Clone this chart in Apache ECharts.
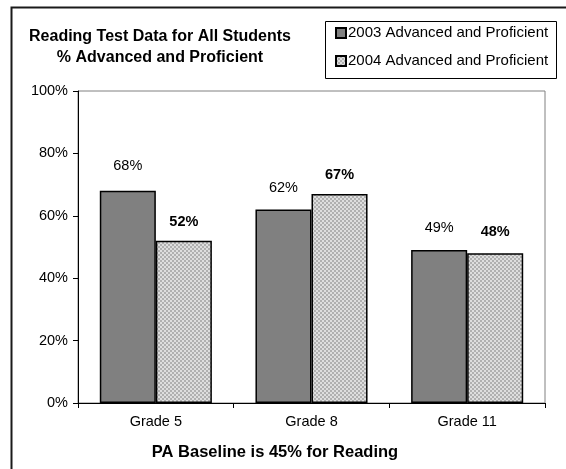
<!DOCTYPE html>
<html>
<head>
<meta charset="utf-8">
<script src="https://cdn.jsdelivr.net/npm/echarts@6/dist/echarts.min.js"></script>
<style>
  html, body { margin: 0; padding: 0; background: #fff; }
  #chart { width: 566px; height: 469px; }
</style>
</head>
<body>
<div id="chart"></div>
<script>
// == Data ====================================================================
const grades = ['Grade 5', 'Grade 8', 'Grade 11']
const values2003 = [68, 62, 49]
const values2004 = [52, 67, 48]
const seriesNames = ['2003 Advanced and Proficient', '2004 Advanced and Proficient']

// label gap above each bar (Excel placed them unevenly)
const gap2003 = [17, 14, 15]
const gap2004 = [11, 11, 14]

const FONT = '"Liberation Sans", Arial, sans-serif'

// dotted light-grey fill like the old Excel pattern
function dotPattern () {
  const c = document.createElement('canvas')
  c.width = 4
  c.height = 4
  const ctx = c.getContext('2d')
  ctx.fillStyle = '#dedede'
  ctx.fillRect(0, 0, 4, 4)
  ctx.fillStyle = '#b0b0b0'
  ctx.fillRect(0, 0, 2, 2)
  ctx.fillRect(2, 2, 2, 2)
  return c
}

function withLabels (vals, gaps) {
  return vals.map((v, i) => ({ value: v, label: { distance: gaps[i] } }))
}

const myChart = echarts.init(document.getElementById('chart'))

myChart.setOption({
  animation: false,
  textStyle: { fontFamily: FONT },
  title: {
    text: 'Reading Test Data for All Students\n% Advanced and Proficient',
    left: 155,
    top: 21,
    textAlign: 'center',
    textStyle: { fontFamily: FONT, fontSize: 16, fontWeight: 'bold', color: '#000', lineHeight: 21 }
  },
  legend: {
    orient: 'vertical',
    left: 323,
    top: 19,
    padding: [6, 8, 7, 12],
    itemGap: 12,
    itemWidth: 10,
    itemHeight: 10,
    icon: 'rect',
    textStyle: { fontFamily: FONT, fontSize: 15, color: '#000', lineHeight: 16, padding: [0, 0, 0, -3] },
    data: seriesNames
  },
  grid: {
    left: 78,
    right: 21,
    top: 91,
    bottom: 66,
    show: true,
    borderColor: '#808080',
    borderWidth: 1
  },
  xAxis: {
    type: 'category',
    data: grades,
    axisLine: { lineStyle: { color: '#000', width: 1 } },
    axisTick: { show: true, length: 5, lineStyle: { color: '#000' } },
    axisLabel: { fontFamily: FONT, fontSize: 14.5, color: '#000', margin: 11 }
  },
  yAxis: {
    type: 'value',
    min: 0,
    max: 100,
    interval: 20,
    splitLine: { show: false },
    axisLine: { show: true, lineStyle: { color: '#000', width: 1 } },
    axisTick: { show: true, length: 5, lineStyle: { color: '#000' } },
    axisLabel: { fontFamily: FONT, fontSize: 14.5, color: '#000', margin: 10, formatter: '{value}%' }
  },
  series: [
    {
      name: seriesNames[0],
      type: 'bar',
      data: withLabels(values2003, gap2003),
      barGap: '0%',
      barCategoryGap: '28%',
      itemStyle: { color: '#808080', borderColor: '#000', borderWidth: 1.5 },
      label: {
        show: true,
        position: 'top',
        formatter: '{c}%',
        fontFamily: FONT,
        fontSize: 14.5,
        color: '#000'
      }
    },
    {
      name: seriesNames[1],
      type: 'bar',
      data: withLabels(values2004, gap2004),
      barGap: '0%',
      barCategoryGap: '28%',
      itemStyle: {
        color: { image: dotPattern(), repeat: 'repeat' },
        borderColor: '#000',
        borderWidth: 1.5
      },
      label: {
        show: true,
        position: 'top',
        formatter: '{c}%',
        fontFamily: FONT,
        fontSize: 14.5,
        fontWeight: 'bold',
        color: '#000'
      }
    }
  ],
  graphic: [
    {
      // outer chart frame, runs off the right and bottom edges
      type: 'rect',
      left: 9,
      top: 5,
      shape: { width: 700, height: 700 },
      style: { fill: 'none', stroke: '#1a1a1a', lineWidth: 2 },
      silent: true
    },
    {
      type: 'rect',
      left: 323,
      top: 19,
      shape: { width: 231, height: 57 },
      style: { fill: 'none', stroke: '#000', lineWidth: 1 },
      silent: true
    },
    {
      type: 'text',
      x: 275,
      y: 452,
      style: {
        text: 'PA Baseline is 45% for Reading',
        fontFamily: FONT,
        fontSize: 16.5,
        fontWeight: 'bold',
        fill: '#000',
        align: 'center',
        verticalAlign: 'middle'
      }
    }
  ]
})
</script>
</body>
</html>
